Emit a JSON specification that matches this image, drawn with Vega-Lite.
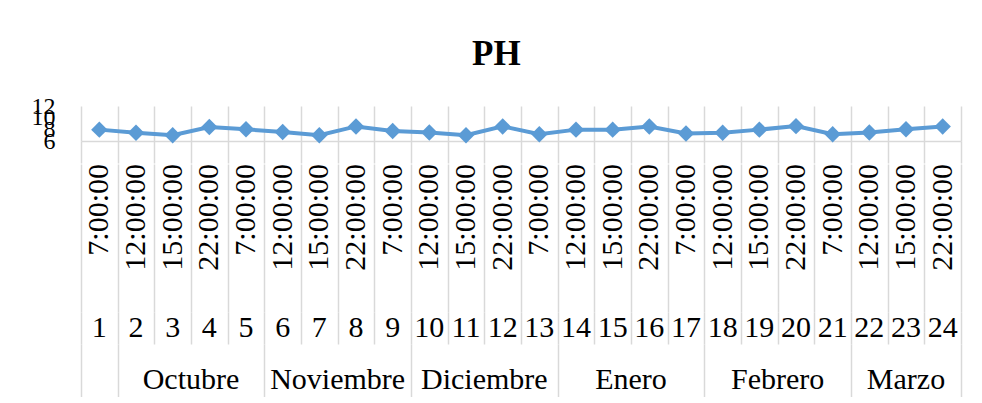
{
  "$schema": "https://vega.github.io/schema/vega-lite/v6.json",
  "padding": {"left": 31, "top": 37, "right": 5, "bottom": 0},
  "background": "white",
  "config": {"view": {"stroke": null}, "font": "Liberation Serif"},
  "title": {"text": "PH", "fontSize": 35, "fontWeight": "bold", "font": "Liberation Serif", "color": "#000000", "offset": 22, "anchor": "middle"},
  "data": {"values": [
    {"idx": 1, "hora": "7:00:00", "mes": "", "ph": 7.95},
    {"idx": 2, "hora": "12:00:00", "mes": "Octubre", "ph": 7.4},
    {"idx": 3, "hora": "15:00:00", "mes": "Octubre", "ph": 7.0},
    {"idx": 4, "hora": "22:00:00", "mes": "Octubre", "ph": 8.4},
    {"idx": 5, "hora": "7:00:00", "mes": "Octubre", "ph": 8.0},
    {"idx": 6, "hora": "12:00:00", "mes": "Noviembre", "ph": 7.55},
    {"idx": 7, "hora": "15:00:00", "mes": "Noviembre", "ph": 7.0},
    {"idx": 8, "hora": "22:00:00", "mes": "Noviembre", "ph": 8.5},
    {"idx": 9, "hora": "7:00:00", "mes": "Noviembre", "ph": 7.7},
    {"idx": 10, "hora": "12:00:00", "mes": "Diciembre", "ph": 7.45},
    {"idx": 11, "hora": "15:00:00", "mes": "Diciembre", "ph": 7.0},
    {"idx": 12, "hora": "22:00:00", "mes": "Diciembre", "ph": 8.5},
    {"idx": 13, "hora": "7:00:00", "mes": "Diciembre", "ph": 7.15},
    {"idx": 14, "hora": "12:00:00", "mes": "Enero", "ph": 7.95},
    {"idx": 15, "hora": "15:00:00", "mes": "Enero", "ph": 7.95},
    {"idx": 16, "hora": "22:00:00", "mes": "Enero", "ph": 8.5},
    {"idx": 17, "hora": "7:00:00", "mes": "Enero", "ph": 7.3},
    {"idx": 18, "hora": "12:00:00", "mes": "Febrero", "ph": 7.4},
    {"idx": 19, "hora": "15:00:00", "mes": "Febrero", "ph": 7.95},
    {"idx": 20, "hora": "22:00:00", "mes": "Febrero", "ph": 8.55},
    {"idx": 21, "hora": "7:00:00", "mes": "Febrero", "ph": 7.15},
    {"idx": 22, "hora": "12:00:00", "mes": "Marzo", "ph": 7.45},
    {"idx": 23, "hora": "15:00:00", "mes": "Marzo", "ph": 8.0},
    {"idx": 24, "hora": "22:00:00", "mes": "Marzo", "ph": 8.5}
  ]},
  "spacing": 0,
  "vconcat": [
    {
      "width": 880,
      "height": 35,
      "encoding": {
        "x": {"field": "idx", "type": "ordinal", "sort": "ascending",
              "scale": {"type": "band", "paddingInner": 0, "paddingOuter": 0},
              "axis": {"title": null, "labels": false, "ticks": true, "tickSize": 22, "tickBand": "extent",
                       "tickColor": "#d9d9d9", "tickWidth": 1.5, "grid": true, "gridColor": "#d9d9d9", "gridWidth": 1.5,
                       "domain": true, "domainColor": "#d9d9d9", "domainWidth": 1.5}},
        "y": {"field": "ph", "type": "quantitative",
              "scale": {"domain": [6, 12], "nice": false, "zero": false},
              "axis": {"title": null, "values": [6, 8, 10, 12], "grid": false, "domain": false, "ticks": false,
                       "labelFontSize": 24, "labelFont": "Liberation Serif", "labelColor": "#000000",
                       "labelPadding": 26, "labelOverlap": false, "labelFlush": false}}
      },
      "layer": [
        {"mark": {"type": "line", "color": "#5B9BD5", "strokeWidth": 4}},
        {"mark": {"type": "point", "shape": "diamond", "filled": true, "size": 270, "color": "#5B9BD5", "opacity": 1}}
      ]
    },
    {
      "width": 880,
      "height": 148,
      "mark": {"type": "text", "angle": 270, "align": "right", "baseline": "middle", "fontSize": 30, "font": "Liberation Serif", "color": "#000000"},
      "encoding": {
        "x": {"field": "idx", "type": "ordinal", "sort": "ascending",
              "scale": {"type": "band", "paddingInner": 0, "paddingOuter": 0},
              "axis": {"title": null, "labels": false, "ticks": false, "domain": false, "grid": true, "tickBand": "extent",
                       "gridColor": "#d9d9d9", "gridWidth": 1.5}},
        "y": {"datum": 1, "type": "quantitative", "scale": {"domain": [0, 1], "nice": false}, "axis": null},
        "text": {"field": "hora", "type": "nominal"}
      }
    },
    {
      "width": 880,
      "height": 32,
      "mark": {"type": "text", "align": "center", "baseline": "middle", "fontSize": 30, "font": "Liberation Serif", "color": "#000000"},
      "encoding": {
        "x": {"field": "idx", "type": "ordinal", "sort": "ascending",
              "scale": {"type": "band", "paddingInner": 0, "paddingOuter": 0},
              "axis": {"title": null, "labels": false, "ticks": false, "domain": false, "grid": true, "tickBand": "extent",
                       "gridColor": "#d9d9d9", "gridWidth": 1.5}},
        "text": {"field": "idx", "type": "nominal"}
      }
    },
    {
      "width": 880,
      "height": 53,
      "mark": {"type": "text", "align": "center", "baseline": "middle", "fontSize": 30, "font": "Liberation Serif", "color": "#000000", "dy": 9},
      "encoding": {
        "x": {"aggregate": "mean", "field": "idx", "type": "quantitative",
              "scale": {"domain": [0.5, 24.5], "nice": false, "zero": false},
              "axis": {"title": null, "labels": false, "ticks": false, "domain": false, "grid": true,
                       "values": [0.5, 1.5, 5.5, 9.5, 13.5, 17.5, 21.5, 24.5],
                       "gridColor": "#d9d9d9", "gridWidth": 1.5}},
        "text": {"field": "mes", "type": "nominal"}
      }
    }
  ]
}
